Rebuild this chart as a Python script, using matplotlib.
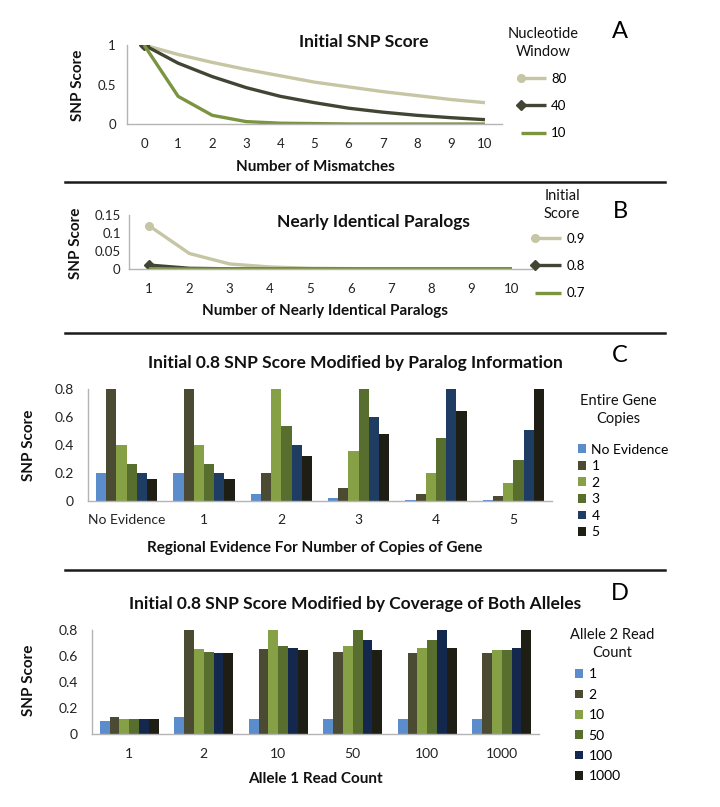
import numpy as np
import matplotlib
matplotlib.use("Agg")
import matplotlib.pyplot as plt
from matplotlib.lines import Line2D
from matplotlib.legend_handler import HandlerLine2D

plt.rcParams["font.family"] = ["Lato", "DejaVu Sans"]

# ---- data ----
mismatches = list(range(11))
window_labels = ["80", "40", "10"]
score_w80 = [1, 0.88, 0.78, 0.69, 0.61, 0.53, 0.47, 0.41, 0.36, 0.31, 0.27]
score_w40 = [1, 0.77, 0.60, 0.46, 0.35, 0.27, 0.20, 0.15, 0.11, 0.08, 0.055]
score_w10 = [1, 0.35, 0.11, 0.03, 0.01, 0.005, 0, 0, 0, 0, 0]

paralogs = list(range(1, 11))
init_labels = ["0.9", "0.8", "0.7"]
score_i09 = [0.12, 0.043, 0.014, 0.0056, 0.002, 0.001, 0, 0, 0, 0]
score_i08 = [0.011, 0.002, 0.0005, 0, 0, 0, 0, 0, 0, 0]
score_i07 = [0.001, 0, 0, 0, 0, 0, 0, 0, 0, 0]

regional = ["No Evidence", "1", "2", "3", "4", "5"]
entire_copies = ["No Evidence", "1", "2", "3", "4", "5"]
# rows: regional evidence group, columns: entire gene copies series
paralog_scores = [
    [0.20, 0.80, 0.40, 0.265, 0.20, 0.16],
    [0.20, 0.80, 0.40, 0.265, 0.20, 0.16],
    [0.05, 0.20, 0.80, 0.533, 0.40, 0.32],
    [0.02, 0.09, 0.357, 0.80, 0.60, 0.48],
    [0.01, 0.05, 0.20, 0.45, 0.80, 0.64],
    [0.005, 0.033, 0.13, 0.29, 0.51, 0.80],
]

allele1 = ["1", "2", "10", "50", "100", "1000"]
allele2 = ["1", "2", "10", "50", "100", "1000"]
coverage_scores = [
    [0.10, 0.128, 0.118, 0.118, 0.118, 0.118],
    [0.128, 0.80, 0.654, 0.628, 0.623, 0.62],
    [0.118, 0.654, 0.80, 0.674, 0.659, 0.644],
    [0.118, 0.628, 0.674, 0.80, 0.72, 0.649],
    [0.118, 0.623, 0.659, 0.72, 0.80, 0.659],
    [0.118, 0.62, 0.644, 0.649, 0.659, 0.80],
]

line_colors = ["#c6c5a4", "#414533", "#7b9440"]
line_markers = ["o", "D", None]
bar_colors_c = ["#5b8dcc", "#4b4a32", "#86a046", "#576e2f", "#1f3c62", "#1e1e14"]
bar_colors_d = ["#5b8dcc", "#4b4a32", "#86a046", "#576e2f", "#13284c", "#1e1e14"]

W, H = 720, 807
fig = plt.figure(figsize=(W / 100, H / 100), dpi=100)


def box(left, right, top, bottom):
    return [left / W, 1 - bottom / H, (right - left) / W, (bottom - top) / H]


def fx(px):
    return px / W


def fy(py):
    return 1 - py / H


class FirstMark(HandlerLine2D):
    def create_artists(self, *args, **kwargs):
        arts = super().create_artists(*args, **kwargs)
        for a in arts:
            a.set_markevery([0])
        return arts


def style(ax, tickpad_x, tickpad_y):
    for s in ["top", "right"]:
        ax.spines[s].set_visible(False)
    for s in ["left", "bottom"]:
        ax.spines[s].set_color("#b4b4b4")
        ax.spines[s].set_linewidth(1)
    ax.tick_params(length=0, labelsize=9.5, colors="#222222")
    ax.tick_params(axis="x", pad=tickpad_x)
    ax.tick_params(axis="y", pad=tickpad_y)
    ax.patch.set_alpha(0)


def legend_title(x, y, text):
    fig.text(fx(x), fy(y), text, ha="center", va="center", fontsize=10.5,
             linespacing=1.45, color="#111111")


bold = dict(fontweight="bold", color="#111111")

# ---- panel A ----
axA = fig.add_axes(box(127, 502, 45, 124))
for vals, c, m, lab in zip([score_w80, score_w40, score_w10], line_colors, line_markers, window_labels):
    axA.plot(mismatches, vals, color=c, lw=2.4, marker=m, ms=5.5, markevery=[0],
             solid_capstyle="butt", label=lab)
axA.set_xlim(-0.5, 10.5)
axA.set_ylim(0, 1)
axA.set_xticks(mismatches)
axA.set_yticks([0, 0.5, 1])
axA.set_yticklabels(["0", "0.5", "1"])
style(axA, 10, 8)
axA.legend(loc="upper left", bbox_to_anchor=(fx(505), fy(61)), bbox_transform=fig.transFigure,
           frameon=False, fontsize=9.5, numpoints=2, handlelength=2.5, handletextpad=0.1,
           labelspacing=1.15, handler_map={Line2D: FirstMark()})
legend_title(543, 43, "Nucleotide\nWindow")
fig.text(fx(364), fy(42), "Initial SNP Score", ha="center", va="center", fontsize=12.5, **bold)
fig.text(fx(315), fy(167), "Number of Mismatches", ha="center", va="center", fontsize=11, **bold)
fig.text(fx(78), fy(85), "SNP Score", ha="center", va="center", rotation=90, fontsize=11, **bold)
fig.text(fx(620), fy(31), "A", ha="center", va="center", fontsize=17)

# ---- panel B ----
axB = fig.add_axes(box(129, 532, 215, 269))
for vals, c, m, lab in zip([score_i09, score_i08, score_i07], line_colors, line_markers, init_labels):
    axB.plot(paralogs, vals, color=c, lw=2.4, marker=m, ms=5.5, markevery=[0],
             solid_capstyle="butt", label=lab)
axB.set_xlim(0.5, 10.5)
axB.set_ylim(0, 0.15)
axB.set_xticks(paralogs)
axB.set_yticks([0, 0.05, 0.1, 0.15])
axB.set_yticklabels(["0", "0.05", "0.1", "0.15"])
style(axB, 10, 6)
axB.legend(loc="upper left", bbox_to_anchor=(fx(519), fy(221)), bbox_transform=fig.transFigure,
           frameon=False, fontsize=9.5, numpoints=2, handlelength=2.6, handletextpad=0.1,
           labelspacing=1.15, handler_map={Line2D: FirstMark()})
legend_title(562, 205, "Initial\nScore")
fig.text(fx(373), fy(222), "Nearly Identical Paralogs", ha="center", va="center", fontsize=12.5, **bold)
fig.text(fx(325), fy(311), "Number of Nearly Identical Paralogs", ha="center", va="center", fontsize=11, **bold)
fig.text(fx(76), fy(243), "SNP Score", ha="center", va="center", rotation=90, fontsize=11, **bold)
fig.text(fx(620), fy(211), "B", ha="center", va="center", fontsize=17)


def grouped_bars(ax, groups, series, scores, colors):
    x = np.arange(len(groups))
    width = 0.132
    scores = np.array(scores)
    for j, (lab, c) in enumerate(zip(series, colors)):
        ax.bar(x + (j - 2.5) * width, scores[:, j], width, color=c, label=lab, linewidth=0)
    ax.set_xlim(-0.5, len(groups) - 0.5)
    ax.set_ylim(0, 0.8)
    ax.set_xticks(x)
    ax.set_xticklabels(groups)
    ax.set_yticks([0, 0.2, 0.4, 0.6, 0.8])
    ax.set_yticklabels(["0", "0.2", "0.4", "0.6", "0.8"])


# ---- panel C ----
axC = fig.add_axes(box(88, 552, 389, 501))
grouped_bars(axC, regional, entire_copies, paralog_scores, bar_colors_c)
style(axC, 9, 10)
axC.tick_params(labelsize=10)
axC.legend(loc="upper left", bbox_to_anchor=(fx(565), fy(431)), bbox_transform=fig.transFigure,
           frameon=False, fontsize=10, handlelength=0.6, handleheight=0.6,
           handletextpad=0.4, labelspacing=0.33)
legend_title(618, 410, "Entire Gene\nCopies")
fig.text(fx(355), fy(363), "Initial 0.8 SNP Score Modified by Paralog Information",
         ha="center", va="center", fontsize=12.5, **bold)
fig.text(fx(315), fy(548), "Regional Evidence For Number of Copies of Gene",
         ha="center", va="center", fontsize=11, **bold)
fig.text(fx(29), fy(445), "SNP Score", ha="center", va="center", rotation=90, fontsize=11, **bold)
fig.text(fx(620), fy(356), "C", ha="center", va="center", fontsize=17)

# ---- panel D ----
axD = fig.add_axes(box(92, 539, 630, 734))
grouped_bars(axD, allele1, allele2, coverage_scores, bar_colors_d)
style(axD, 10, 10)
axD.tick_params(labelsize=10)
axD.legend(loc="upper left", bbox_to_anchor=(fx(562), fy(656)), bbox_transform=fig.transFigure,
           frameon=False, fontsize=10, handlelength=0.6, handleheight=0.6,
           handletextpad=0.4, labelspacing=0.6)
legend_title(612, 644, "Allele 2 Read\nCount")
fig.text(fx(355), fy(604), "Initial 0.8 SNP Score Modified by Coverage of Both Alleles",
         ha="center", va="center", fontsize=12.5, **bold)
fig.text(fx(315), fy(779), "Allele 1 Read Count", ha="center", va="center", fontsize=11, **bold)
fig.text(fx(29), fy(680), "SNP Score", ha="center", va="center", rotation=90, fontsize=11, **bold)
fig.text(fx(620), fy(594), "D", ha="center", va="center", fontsize=17)

# separators between panels
for py in [182, 333, 570]:
    fig.add_artist(Line2D([fx(65), fx(665)], [fy(py), fy(py)], color="#1a1a1a", lw=1.8))

fig.savefig("out.png", dpi=100)
